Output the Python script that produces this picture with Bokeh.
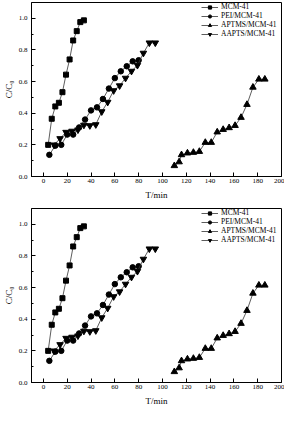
from bokeh.plotting import figure
from bokeh.layouts import column
from bokeh.models import FixedTicker, PrintfTickFormatter, Range1d
from bokeh.embed import file_html
from bokeh.resources import INLINE

# ---- data ----
mcm_t = [4, 7, 10, 13, 16, 19, 22, 25, 28, 31, 34]
mcm_c = [0.20, 0.365, 0.443, 0.466, 0.533, 0.644, 0.74, 0.86, 0.919, 0.976, 0.987]

pei_t = [5, 10, 15, 20, 25, 30, 35, 40, 45, 50, 55, 60, 65, 70, 75, 80]
pei_c = [0.137, 0.195, 0.20, 0.265, 0.265, 0.31, 0.36, 0.418, 0.437, 0.49,
         0.556, 0.622, 0.665, 0.697, 0.728, 0.735]

aptms_t = [110, 114, 116, 121, 126, 131, 136, 141, 146, 151, 156, 161, 166,
           171, 176, 181, 186]
aptms_c = [0.068, 0.092, 0.137, 0.148, 0.152, 0.158, 0.215, 0.215, 0.281,
           0.297, 0.308, 0.322, 0.373, 0.455, 0.564, 0.615, 0.615]

aapts_t = [9, 14, 19, 24, 29, 34, 39, 44, 49, 54, 59, 64, 69, 74, 79, 84, 89, 94]
aapts_c = [0.20, 0.24, 0.28, 0.287, 0.295, 0.325, 0.322, 0.328, 0.41, 0.47,
           0.543, 0.574, 0.622, 0.666, 0.703, 0.78, 0.845, 0.845]

series_names = ["MCM-41", "PEI/MCM-41", "APTMS/MCM-41", "AAPTS/MCM-41"]

x_ticks = [0, 20, 40, 60, 80, 100, 120, 140, 160, 180, 200]
y_ticks = [0.0, 0.2, 0.4, 0.6, 0.8, 1.0]
y_minor = [0.1, 0.3, 0.5, 0.7, 0.9]

FONT = "Liberation Serif"


def make_panel(top):
    p = figure(frame_width=250, frame_height=174,
               x_range=Range1d(-10, 200), y_range=Range1d(0, 1.1),
               output_backend="svg", toolbar_location=None,
               min_border_left=20, min_border_right=3,
               min_border_top=top, min_border_bottom=0)
    p.background_fill_color = "white"
    p.border_fill_color = "white"
    p.outline_line_color = "black"
    p.outline_line_width = 1
    p.xgrid.visible = False
    p.ygrid.visible = False

    data = [
        (mcm_t, mcm_c, "square", 5),
        (pei_t, pei_c, "circle", 5.5),
        (aptms_t, aptms_c, "triangle", 6.5),
        (aapts_t, aapts_c, "inverted_triangle", 6.5),
    ]
    for (xs, ys, mk, sz), name in zip(data, series_names):
        p.line(xs, ys, line_color="#333333", line_width=0.8, legend_label=name)
        p.scatter(xs, ys, marker=mk, size=sz, fill_color="black",
                  line_color="black", legend_label=name)

    for ax in (p.xaxis[0], p.yaxis[0]):
        ax.axis_line_color = "black"
        ax.axis_line_width = 1
        ax.major_tick_in = 4
        ax.major_tick_out = 0
        ax.minor_tick_in = 2
        ax.minor_tick_out = 0
        ax.major_tick_line_color = "black"
        ax.minor_tick_line_color = "black"
        ax.major_label_text_font = FONT
        ax.major_label_text_font_size = "7px"
        ax.major_label_text_color = "black"
        ax.axis_label_text_font = FONT
        ax.axis_label_text_font_size = "9px"
        ax.axis_label_text_font_style = "normal"
        ax.axis_label_text_color = "black"

    p.xaxis[0].ticker = FixedTicker(ticks=x_ticks)
    p.xaxis[0].minor_tick_line_color = None
    p.xaxis[0].axis_label = "T/min"
    p.xaxis[0].major_label_standoff = 2
    p.xaxis[0].axis_label_standoff = 4

    p.yaxis[0].ticker = FixedTicker(ticks=y_ticks, minor_ticks=y_minor)
    p.yaxis[0].formatter = PrintfTickFormatter(format="%.1f")
    p.yaxis[0].axis_label = "C/C\u2080"
    p.yaxis[0].major_label_standoff = 4
    p.yaxis[0].axis_label_standoff = 2

    lg = p.legend[0]
    lg.location = "top_right"
    lg.margin = 0
    lg.padding = 0
    lg.spacing = 0
    lg.border_line_color = None
    lg.background_fill_alpha = 0
    lg.glyph_width = 17
    lg.glyph_height = 8
    lg.label_height = 8
    lg.label_width = 60
    lg.label_standoff = 3
    lg.label_text_font = FONT
    lg.label_text_font_size = "7.5px"
    lg.label_text_line_height = 1.0
    lg.label_text_color = "black"
    return p


p1 = make_panel(2)
p2 = make_panel(6)
layout = column(p1, p2, spacing=0)

open("out.html", "w").write(file_html(layout, INLINE))
